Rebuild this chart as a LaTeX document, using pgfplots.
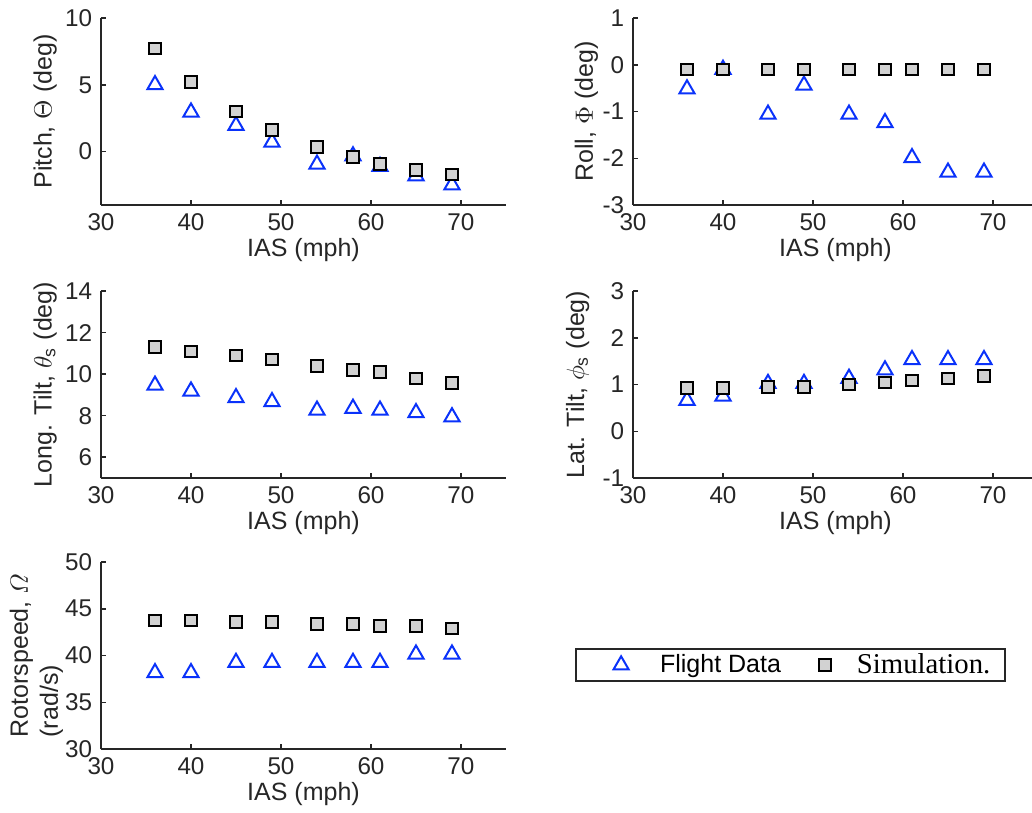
\documentclass[border=0pt]{standalone}
\usepackage{amsmath}
\usepackage{fontspec}
\setmainfont{Liberation Sans}
\newfontfamily\seriffont{Liberation Serif}
\usepackage{pgfplots}
\pgfplotsset{compat=1.18}

\definecolor{fdblue}{RGB}{10,50,250}
\definecolor{simgray}{RGB}{210,210,210}
\definecolor{axgray}{RGB}{38,38,38}

\pgfplotsset{
  panel/.style={
    scale only axis, width=162pt, height=74.8pt,
    axis lines*=left, xmin=30, xmax=75, xtick={30,40,...,70},
    tick align=inside, major tick length=2pt,
    axis line style={axgray, line width=0.6pt},
    every tick/.style={axgray, line width=0.6pt},
    tick label style={font=\fontsize{9.7}{11}\selectfont, text=axgray},
    label style={font=\fontsize{10}{12}\selectfont, text=axgray},
    xlabel style={yshift=4pt},
    ylabel style={yshift=-3.5pt},
    /pgf/number format/assume math mode=true,
    xlabel={IAS (mph)},
    clip=false,
  },
  fd/.style={only marks, color=fdblue, mark=triangle,
    mark size=3.5pt, mark options={solid, line width=0.8pt},
    legend image code/.code={\path (-11.8pt,0pt) (15.2pt,0pt);
      \draw[##1] plot coordinates {(0pt,0pt)};}},
  sim/.style={only marks, color=black, mark=square*,
    mark size=2.3pt, mark options={draw=black, fill=simgray, line width=0.8pt},
    legend image code/.code={\path (-11.8pt,0pt) (12.4pt,0pt);
      \draw[##1] plot coordinates {(0pt,0pt)};}},
}

\begin{document}
\begin{tikzpicture}
% pitch
\begin{axis}[panel, at={(40.4pt,242.8pt)}, anchor=south west,
  ymin=-4, ymax=10, ytick={0,5,10},
  ylabel={Pitch, $\Theta$ (deg)}]
\addplot[fd] coordinates {(36,5.0)(40,2.95)(45,1.95)(49,0.7)(54,-0.95)
  (58,-0.33)(61,-1.12)(65,-1.82)(69,-2.5)};
\addplot[sim] coordinates {(36,7.7)(40,5.2)(45,3.0)(49,1.6)(54,0.35)
  (58,-0.42)(61,-0.92)(65,-1.37)(69,-1.7)};
\end{axis}
% roll
\begin{axis}[panel, at={(253.2pt,242.8pt)}, anchor=south west,
  ymin=-3, ymax=1, ytick={-3,-2,...,1},
  ylabel={Roll, $\Phi$ (deg)}, ylabel style={yshift=-1.5pt}]
\addplot[fd] coordinates {(36,-0.52)(40,-0.1)(45,-1.06)(49,-0.44)(54,-1.06)
  (58,-1.24)(61,-1.99)(65,-2.3)(69,-2.3)};
\addplot[sim] coordinates {(36,-0.1)(40,-0.1)(45,-0.1)(49,-0.1)(54,-0.1)
  (58,-0.1)(61,-0.1)(65,-0.1)(69,-0.1)};
\end{axis}
% longitudinal tilt
\begin{axis}[panel, at={(40.4pt,133.6pt)}, anchor=south west,
  ymin=5, ymax=14, ytick={6,8,...,14},
  ylabel={Long. Tilt, $\theta_{\text{s}}$ (deg)}]
\addplot[fd] coordinates {(36,9.46)(40,9.18)(45,8.86)(49,8.67)(54,8.26)
  (58,8.35)(61,8.26)(65,8.14)(69,7.94)};
\addplot[sim] coordinates {(36,11.31)(40,11.1)(45,10.9)(49,10.7)(54,10.4)
  (58,10.19)(61,10.1)(65,9.79)(69,9.58)};
\end{axis}
% lateral tilt
\begin{axis}[panel, at={(253.2pt,133.6pt)}, anchor=south west,
  ymin=-1, ymax=3, ytick={-1,0,...,3},
  ylabel={Lat. Tilt, $\phi_{\text{s}}$ (deg)}, ylabel style={yshift=2pt}]
\addplot[fd] coordinates {(36,0.66)(40,0.75)(45,1.02)(49,1.02)(54,1.13)
  (58,1.31)(61,1.53)(65,1.53)(69,1.53)};
\addplot[sim] coordinates {(36,0.92)(40,0.92)(45,0.95)(49,0.95)(54,1.0)
  (58,1.04)(61,1.09)(65,1.13)(69,1.18)};
\end{axis}
% rotor speed
\begin{axis}[panel, at={(40.4pt,25.2pt)}, anchor=south west,
  ymin=30, ymax=50, ytick={30,35,...,50},
  ylabel={Rotorspeed, $\varOmega$\\(rad/s)},
  ylabel style={align=left, yshift=-2.5pt},
  legend columns=2,
  legend style={at={(axis description cs:1.7025,0.449)}, anchor=center,
    draw=axgray, line width=0.8pt, inner xsep=5.8pt, inner ysep=0pt,
    nodes={inner xsep=0pt, inner ysep=1.5pt, text depth=0.15em},
    font=\fontsize{10}{12}\selectfont,
    /tikz/every even column/.append style={column sep=5.4pt}}]
\addplot[fd] coordinates {(36,38.15)(40,38.15)(45,39.25)(49,39.25)(54,39.25)
  (58,39.25)(61,39.25)(65,40.14)(69,40.14)};
\addlegendentry{Flight Data}
\addplot[sim] coordinates {(36,43.77)(40,43.77)(45,43.56)(49,43.56)(54,43.35)
  (58,43.35)(61,43.13)(65,43.13)(69,42.9)};
\addlegendentry{{\seriffont\fontsize{11.5}{12}\selectfont Simulation.}}
\end{axis}
\pgfresetboundingbox
\useasboundingbox (0pt,0pt) rectangle (412.8pt,324.8pt);
\end{tikzpicture}
\end{document}
